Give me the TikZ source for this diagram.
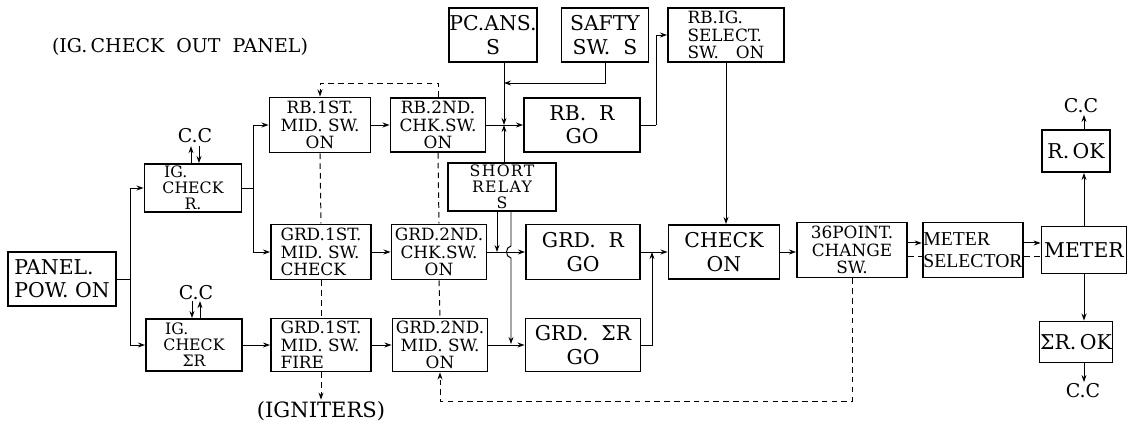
\documentclass[tikz,border=0pt]{standalone}
\usepackage{fontspec}
\setmainfont{DejaVu Serif}
\newfontfamily\narrowfont{Liberation Serif}
\usetikzlibrary{arrows.meta,positioning}

\begin{document}
\begin{tikzpicture}[
  x=0.025cm, y=-0.025cm,
  sz/.style 2 args={minimum width=#1*0.025cm, minimum height=#2*0.025cm},
  blk/.style={draw, line width=1.3pt, inner sep=0.5pt, align=center, font=\fontsize{12}{12.6}\selectfont},
  sml/.style={blk, font=\fontsize{11.2}{11.4}\selectfont},
  big/.style={blk, font=\fontsize{14.5}{16.5}\selectfont},
  lbl/.style={inner sep=1pt, font=\fontsize{13.5}{15}\selectfont},
  arr/.style={-{Stealth[length=5pt,width=3.5pt]}, line width=0.7pt},
  dsh/.style={line width=0.7pt, dash pattern=on 4pt off 3pt}
]
  \useasboundingbox (0,0) rectangle (1132,428);

  \node[lbl] (title) at (180,47) {(IG.\,CHECK~~OUT~~PANEL)};
  \node[big, sz={108}{54}, align=left] (panel) at (62,279) {PANEL.\\POW. ON};
  \node[sml, sz={97}{48}] (igr) at (193,188) {IG.\hspace*{2.2em}\\CHECK\\R.};
  \node[sml, sz={96}{52}] (igs) at (194,345) {IG.\hspace*{2.2em}\\CHECK\\ΣR};
  \node[blk, sz={101}{55}] (rb1) at (320,125) {RB.1ST.\\MID. SW.\\ON};
  \node[blk, sz={100}{55}, align=left] (g1c) at (321,252) {GRD.1ST.\\MID. SW.\\CHECK};
  \node[blk, sz={100}{53}, align=left] (g1f) at (321,345) {GRD.1ST.\\MID. SW.\\FIRE};
  \node[blk, sz={95}{54}] (rb2) at (438,125) {RB.2ND.\\CHK.SW.\\ON};
  \node[blk, sz={95}{55}] (g2c) at (439,252) {GRD.2ND.\\CHK.SW.\\ON};
  \node[blk, sz={95}{53}] (g2m) at (440,345) {GRD.2ND.\\MID. SW.\\ON};
  \node[big, sz={86}{54}] (pcans) at (493,35) {PC.ANS.\\S};
  \node[big, sz={87}{54}] (safty) at (605,35) {SAFTY\\SW.~~S};
  \node[blk, sz={116}{54}, align=left] (rbig) at (726,35) {RB.IG.\\SELECT.\\SW.\quad ON};
  \node[sml, sz={108}{48}, font=\fontsize{11.2}{11.4}\selectfont\addfontfeature{LetterSpace=8}] (short) at (502,187) {SHORT\\RELAY\\S};
  \node[big, sz={116}{54}] (rbr) at (582,125) {RB.~~R\\GO};
  \node[big, sz={114}{55}] (grdr) at (583,252) {GRD.~~R\\GO};
  \node[big, sz={115}{53}] (grds) at (583,345) {GRD.~~ΣR\\GO};
  \node[big, sz={111}{54}] (check) at (724,252) {CHECK\\ON};
  \node[blk, sz={110}{55}] (pt36) at (852,250) {36POINT.\\CHANGE\\SW.};
  \node[blk, sz={100}{55}, align=left, font=\fontsize{14}{16}\narrowfont] (msel) at (973,250) {METER\\SELECTOR};
  \node[big, sz={85}{47}] (meter) at (1084,250) {METER};
  \node[big, sz={68}{42}] (rok) at (1076,151) {R.\,OK};
  \node[big, sz={68}{41}] (srok) at (1076,342) {ΣR.\,OK};
  \node[lbl] (cc1) at (195,136) {C.C};
  \node[lbl] (cc2) at (196,293) {C.C};
  \node[lbl] (cc3) at (1081,106) {C.C};
  \node[lbl] (cc4) at (1083,391) {C.C};
  \node[lbl, font=\fontsize{15}{16}\selectfont] (ign) at (321,411) {(IGNITERS)};

  \coordinate (bus1) at (130,279);
  \coordinate (bus2) at (253,188);
  \coordinate (j1) at (504,125);
  \coordinate (j2) at (504,83);
  \coordinate (k1) at (656,125);
  \coordinate (s1) at (497,252);
  \coordinate (s2) at (511,344);
  \coordinate (j3) at (652,252);

  \draw[line width=0.7pt] (panel.east) -- (bus1);
  \draw[arr] (bus1) |- (igr.west);
  \draw[arr] (bus1) |- (igs.west);
  \draw[line width=0.7pt] (igr.east) -- (bus2);
  \draw[arr] (bus2) |- (rb1.west);
  \draw[arr] (bus2) |- (g1c.west);
  \draw[arr] (igs.east) -- (g1f.west);
  \draw[arr] (rb1.east) -- (rb2.west);
  \draw[arr] (g1c.east) -- (g2c.west);
  \draw[arr] (g1f.east) -- (g2m.west);
  \draw[arr] (igr.north) ++(-2,0) -- ++(0,-17);
  \draw[arr] (igr.north) ++(6,-17) -- ++(0,17);
  \draw[arr] (igs.north) ++(-2,-17) -- ++(0,17);
  \draw[arr] (igs.north) ++(6,0) -- ++(0,-17);

  \draw[arr] (rb2.east) -- (rbr.west);
  \draw[arr] (pcans.south -| j1) -- (j1);
  \draw[arr] (short.north -| j1) -- (j1);
  \draw[arr] (safty.south) |- (j2);
  \draw[line width=0.7pt] (rbr.east) -- (k1);
  \draw[arr] (k1) |- (rbig.west);
  \draw[arr] (rbig.south) -- (rbig.south |- check.north);

  \draw[arr] (g2c.east) -- (grdr.west);
  \draw[arr] (g2m.east) -- (grds.west);
  \draw[arr] (short.south -| s1) -- (s1);
  \draw[arr] (short.south -| s2) -- (511,246) .. controls (505,247) and (505,257) .. (511,258) -- (s2);
  \draw[arr] (grdr.east) -- (check.west);
  \draw[arr] (grds.east) -| (j3);
  \draw[arr] (check.east) -- (check.east -| pt36.west);

  \draw[arr] ([yshift=5pt]pt36.east) -- ([yshift=5pt]msel.west);
  \draw[dsh] ([yshift=-4.3pt]pt36.east) -- ([yshift=-4.3pt]msel.west);
  \draw[arr] ([yshift=5pt]msel.east) -- ([yshift=5pt]meter.west);
  \draw[dsh] ([yshift=-4.3pt]msel.east) -- ([yshift=-4.3pt]meter.west);
  \draw[arr] (meter.north) -- (meter.north |- rok.south);
  \draw[arr] (meter.north |- rok.north) -- (meter.north |- cc3.south);
  \draw[arr] (meter.south) -- (meter.south |- srok.north);
  \draw[arr] (meter.south |- srok.south) -- (meter.south |- cc4.north);

  \draw[dsh, arr] (rb2.north) -- ++(0,-14) -| (rb1.north);
  \draw[dsh] (rb1.south) -- (g1c.north);
  \draw[dsh] (g1c.south) -- (g1f.north);
  \draw[dsh, arr] (g1f.south) -- (ign.north);
  \draw[dsh] (rb2.south) -- (g2c.north);
  \draw[dsh] (g2c.south) -- (g2m.north);
  \draw[dsh, arr] (pt36.south) -- ++(0,123) -| (g2m.south);
\end{tikzpicture}
\end{document}
